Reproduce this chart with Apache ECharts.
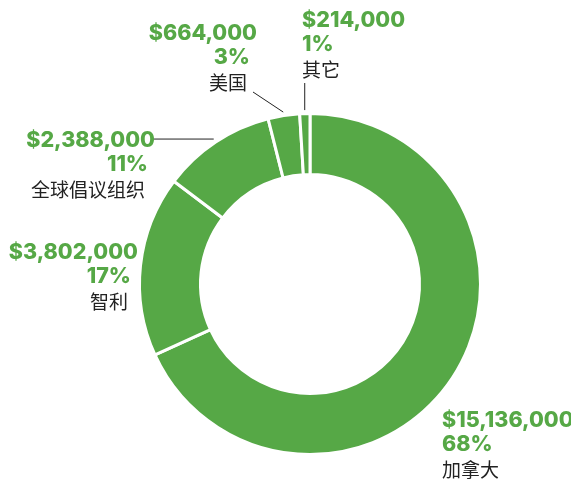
<!DOCTYPE html>
<html>
<head>
<meta charset="utf-8">
<script src="https://cdn.jsdelivr.net/npm/echarts@6/dist/echarts.min.js"></script>
<style>
  html, body { margin: 0; padding: 0; background: #fff; }
  #chartData { width: 571px; height: 480px; }
</style>
</head>
<body>
<div id="chartData"></div>
<script>
// 数据
var names  = ['加拿大', '智利', '全球倡议组织', '美国', '其它'];
var values = [15136000, 3802000, 2388000, 664000, 214000];

var green = '#56a846';
var cx = 310, cy = 284, outerR = 169;

// 标签位置 (x, 顶部y, 对齐) 以及引导线终点
var labelPos = [
    { x: 442, y: 409, align: 'left' },
    { x: 138, y: 241, align: 'right' },
    { x: 155, y: 129, align: 'right' },
    { x: 257, y: 22,  align: 'right' },
    { x: 302, y: 9,   align: 'left' }
];
var lineEnd = [null, null, [152, null], [253, 92], [null, 83]];

// 每个扇区的中间角度
var total = values.reduce(function (a, b) { return a + b; }, 0);
var midAngle = [];
var acc = 0;
values.forEach(function (v) {
    midAngle.push((acc + v / 2) / total * Math.PI * 2);
    acc += v;
});

var pieData = names.map(function (n, i) {
    return {
        name: n,
        value: values[i],
        labelLine: { show: i >= 2 }
    };
});

var myChart = echarts.init(document.getElementById('chartData'));

var option = {
    animation: false,
    series: [{
        type: 'pie',
        center: [cx, cy],
        radius: [109.5, 170.5],
        startAngle: 90,
        clockwise: true,
        avoidLabelOverlap: false,
        itemStyle: {
            color: green,
            borderColor: '#fff',
            borderWidth: 3
        },
        emphasis: { disabled: true },
        label: {
            show: true,
            position: 'outside',
            formatter: function (p) {
                var r = p.dataIndex >= 1 && p.dataIndex <= 3;
                return '{v|$' + p.value.toLocaleString('en-US') + '}\n' +
                    '{' + (r ? 'p' : 'pl') + '|' + Math.round(p.percent) + '%}\n' +
                    '{' + (r ? 'n' : 'nl') + '|' + p.name + '}';
            },
            rich: {
                v:  { fontFamily: 'Inter', fontWeight: 800, fontSize: 21.5, color: green, lineHeight: 24 },
                p:  { fontFamily: 'Inter', fontWeight: 800, fontSize: 21.5, color: green, lineHeight: 24, padding: [0, 7, 0, 0] },
                pl: { fontFamily: 'Inter', fontWeight: 800, fontSize: 21.5, color: green, lineHeight: 24 },
                n:  { fontFamily: 'Noto Sans CJK SC', fontSize: 19, color: '#222', lineHeight: 26, padding: [0, 10, 0, 0] },
                nl: { fontFamily: 'Noto Sans CJK SC', fontSize: 19, color: '#222', lineHeight: 26 }
            }
        },
        labelLine: {
            lineStyle: { color: '#222', width: 1 }
        },
        labelLayout: function (params) {
            var i = params.dataIndex;
            var pos = labelPos[i];
            var out = { x: pos.x, y: pos.y, align: pos.align, verticalAlign: 'top' };
            if (lineEnd[i]) {
                var a = midAngle[i];
                var sx = cx + (outerR + 5) * Math.sin(a);
                var sy = cy - (outerR + 5) * Math.cos(a);
                var ex = lineEnd[i][0] == null ? sx : lineEnd[i][0];
                var ey = lineEnd[i][1] == null ? sy : lineEnd[i][1];
                out.labelLinePoints = [[sx, sy], [ex, ey], [ex, ey]];
            }
            return out;
        },
        data: pieData
    }]
};

myChart.setOption(option);
</script>
</body>
</html>
